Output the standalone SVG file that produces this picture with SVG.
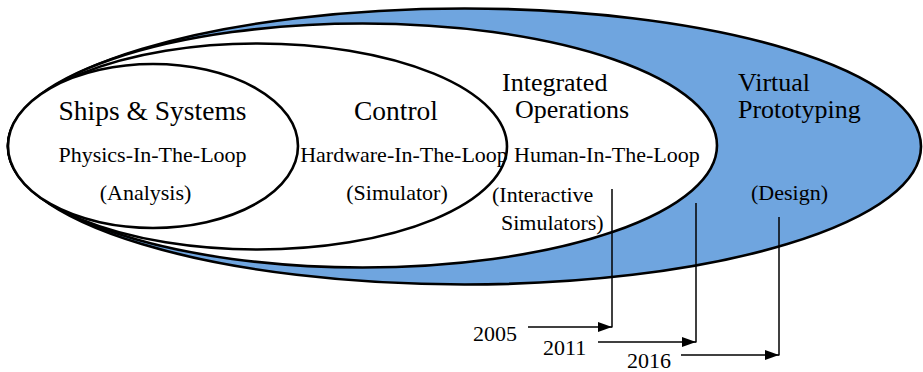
<svg xmlns="http://www.w3.org/2000/svg" width="923" height="372" viewBox="0 0 923 372">
<defs>
<style>
.e{stroke:#000;stroke-width:2.6}
.h{font-size:27.5px}
.h2{font-size:26px}
.s{font-size:22px}
.c{text-anchor:middle}
.ln{stroke:#000;stroke-width:1.5;fill:none}
</style>
<marker id="ah" viewBox="0 0 14 10" refX="14" refY="5" markerWidth="14" markerHeight="10" markerUnits="userSpaceOnUse" orient="auto">
<path d="M0,0 L14,5 L0,10 Z" fill="#000"/>
</marker>
</defs>
<rect width="923" height="372" fill="#fff"/>
<g font-family="'Liberation Serif', 'Times New Roman', serif" fill="#000">
<g id="virtual-prototyping">
<ellipse class="e" cx="464.5" cy="146.5" rx="456.5" ry="138" fill="#6FA5DF"/>
<text class="h2" x="738" y="91">Virtual</text>
<text class="h2" x="738" y="118">Prototyping</text>
<text class="s c" x="789.5" y="200">(Design)</text>
</g>
<g id="integrated-operations">
<ellipse class="e" cx="362.5" cy="145.5" rx="354.5" ry="122" fill="#fff"/>
<text class="h2" x="502" y="91">Integrated</text>
<text class="h2" x="515" y="118">Operations</text>
<text class="s" x="514" y="162">Human-In-The-Loop</text>
<text class="s" x="492" y="202">(Interactive</text>
<text class="s" x="501" y="230">Simulators)</text>
</g>
<g id="control">
<ellipse class="e" cx="257.5" cy="146.5" rx="249.5" ry="103" fill="#fff"/>
<text class="h c" x="396" y="120">Control</text>
<text class="s c" x="404" y="162">Hardware-In-The-Loop</text>
<text class="s c" x="397" y="200">(Simulator)</text>
</g>
<g id="ships-systems">
<ellipse class="e" cx="153" cy="146" rx="145" ry="82" fill="#fff"/>
<text class="h c" x="152.5" y="120">Ships &amp; Systems</text>
<text class="s c" x="152.5" y="162">Physics-In-The-Loop</text>
<text class="s c" x="145.5" y="200">(Analysis)</text>
</g>
<g id="years">
<text class="s" x="473" y="341">2005</text>
<text class="s" x="543" y="355">2011</text>
<text class="s" x="627" y="367.5">2016</text>
</g>
</g>
<g id="connectors">
<line class="ln" x1="612" y1="189" x2="612" y2="327.5"/>
<line class="ln" x1="528" y1="327" x2="612" y2="327" marker-end="url(#ah)"/>
<line class="ln" x1="696" y1="203" x2="696" y2="342.5"/>
<line class="ln" x1="598" y1="342" x2="696" y2="342" marker-end="url(#ah)"/>
<line class="ln" x1="779" y1="217" x2="779" y2="355.5"/>
<line class="ln" x1="681" y1="355" x2="779" y2="355" marker-end="url(#ah)"/>
</g>
</svg>
